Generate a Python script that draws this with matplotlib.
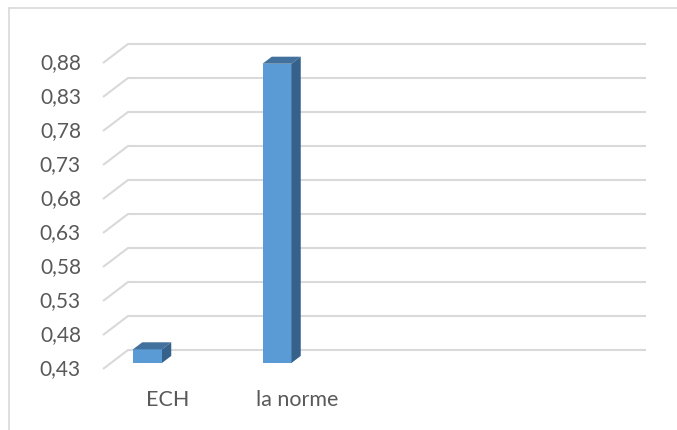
import numpy as np
import matplotlib.pyplot as plt
from matplotlib.patches import Polygon
from matplotlib.lines import Line2D

# data
categories = ['ECH', 'la norme']
values = [0.45, 0.87]
ticks = [0.43, 0.48, 0.53, 0.58, 0.63, 0.68, 0.73, 0.78, 0.83, 0.88]
tick_labels = ['0,43', '0,48', '0,53', '0,58', '0,63', '0,68', '0,73', '0,78', '0,83', '0,88']
n_slots = 4  # category slots on the floor (two empty)

# fake 3d geometry (pixels -> data units)
px_x = 129.5   # px per category slot
px_y = 680.0   # px per value unit
x0_px, y0_px = 103, 369   # front corner of floor
DX = 25 / px_x            # full depth offset in x
DY = 19 / px_y            # full depth offset in y
bar_off = 22 / px_x
bar_w = 29 / px_x
d_front = 0.32
d_depth = 0.37

front_col = '#5B9BD5'
top_col = '#41719C'
side_col = '#36618B'
grid_col = '#D9D9D9'
text_col = '#595959'

plt.rcParams['font.family'] = ['Lato', 'DejaVu Sans']

fig = plt.figure(figsize=(6.77, 4.30), dpi=100)
ax = fig.add_axes([0, 0, 1, 1])
W, H = 677, 430
ax.set_xlim(-x0_px / px_x, (W - x0_px) / px_x)
floor = ticks[0]
ax.set_ylim(floor - (H - y0_px) / px_y, floor + y0_px / px_y)
ax.axis('off')

# gridlines: short diagonal at left then along back wall
for t, lab in zip(ticks, tick_labels):
    ax.plot([0, DX, n_slots + DX], [t, t + DY, t + DY], color=grid_col, lw=1.5,
            solid_capstyle='butt', zorder=1)
    ax.text(-22 / px_x, t, lab, ha='right', va='center', fontsize=15, color=text_col)

# bars
for i, (cat, v) in enumerate(zip(categories, values)):
    left = i + bar_off + d_front * DX
    bottom = floor + d_front * DY
    top = bottom + (v - floor)
    ax.bar(left, v - floor, width=bar_w, bottom=bottom, align='edge',
           color=front_col, zorder=3)
    ddx, ddy = d_depth * DX, d_depth * DY
    ax.add_patch(Polygon([(left, top), (left + bar_w, top),
                          (left + bar_w + ddx, top + ddy), (left + ddx, top + ddy)],
                         closed=True, facecolor=top_col, edgecolor='none', zorder=3))
    ax.add_patch(Polygon([(left + bar_w, bottom), (left + bar_w, top),
                          (left + bar_w + ddx, top + ddy), (left + bar_w + ddx, bottom + ddy)],
                         closed=True, facecolor=side_col, edgecolor='none', zorder=3))
    ax.text(i + 0.5, floor - 31 / px_y, cat, ha='center', va='center',
            fontsize=15.5, color=text_col)

# chart border (only top and left visible)
fig.add_artist(Line2D([9 / W, 1], [1 - 8 / H, 1 - 8 / H], color=grid_col, lw=1.2))
fig.add_artist(Line2D([9 / W, 9 / W], [0, 1 - 8 / H], color=grid_col, lw=1.2))

fig.savefig('out.png', dpi=100)
